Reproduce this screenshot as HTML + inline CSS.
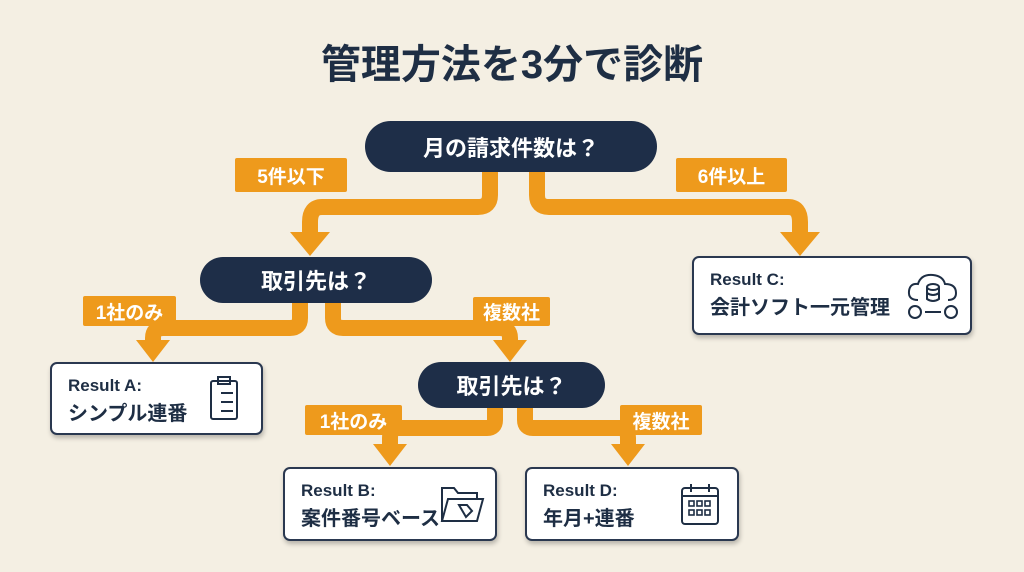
<!DOCTYPE html>
<html><head><meta charset="utf-8"><style>
body{margin:0;width:1024px;height:572px;background:#f4efe3;position:relative;overflow:hidden;font-family:"Liberation Sans","Noto Sans CJK JP",sans-serif;}
.t{position:absolute;left:0;width:1024px;top:32px;text-align:center;font-size:40px;font-weight:bold;color:#1e2e44;}
.pill{position:absolute;background:#1e2e48;color:#fff;border-radius:26px;font-weight:bold;font-size:22px;display:flex;align-items:center;justify-content:center;}
.lab{position:absolute;background:#ee9a1c;color:#fff;font-weight:bold;font-size:19px;display:flex;align-items:center;justify-content:center;border-radius:2px;}
.res{position:absolute;background:#fff;border:2px solid #2a3850;border-radius:7px;box-shadow:1px 3px 5px rgba(0,0,0,.25);box-sizing:border-box;color:#1e2e44;font-weight:bold;}
.res .a{position:absolute;left:16px;top:12px;font-size:17px;}
.res .b{position:absolute;left:16px;top:33px;font-size:20px;}
svg.ic{position:absolute;}
</style></head><body>
<div class="t">管理方法を3分で診断</div>
<svg width="1024" height="572" style="position:absolute;left:0;top:0" fill="none" stroke="#ee9a1c" stroke-width="16">
<path d="M490 172 V195 Q490 207 478 207 H322 Q310 207 310 222 V235"/>
<path d="M537 172 V195 Q537 207 549 207 H788 Q800 207 800 222 V235"/>
<path d="M300 302 V318 Q300 328 290 328 H163 Q153 328 153 338 V342"/>
<path d="M333 302 V318 Q333 328 343 328 H500 Q510 328 510 338 V342"/>
<path d="M495 408 V420 Q495 428 487 428 H398 Q390 428 390 438 V446"/>
<path d="M525 408 V420 Q525 428 533 428 H620 Q628 428 628 438 V446"/>
<g fill="#ee9a1c" stroke="none">
<polygon points="290,232 330,232 310,256"/>
<polygon points="780,232 820,232 800,256"/>
<polygon points="136,340 170,340 153,362"/>
<polygon points="493,340 527,340 510,362"/>
<polygon points="373,444 407,444 390,466"/>
<polygon points="611,444 645,444 628,466"/>
</g></svg>
<div class="pill" style="left:365px;top:121px;width:292px;height:51px;">月の請求件数は？</div>
<div class="lab" style="left:235px;top:158px;width:112px;height:34px;">5件以下</div>
<div class="lab" style="left:676px;top:158px;width:111px;height:34px;">6件以上</div>
<div class="pill" style="left:200px;top:257px;width:232px;height:46px;">取引先は？</div>
<div class="lab" style="left:83px;top:296px;width:93px;height:30px;">1社のみ</div>
<div class="lab" style="left:473px;top:297px;width:77px;height:29px;">複数社</div>
<div class="pill" style="left:418px;top:362px;width:187px;height:46px;">取引先は？</div>
<div class="lab" style="left:305px;top:405px;width:97px;height:30px;">1社のみ</div>
<div class="lab" style="left:620px;top:405px;width:82px;height:30px;">複数社</div>

<div class="res" style="left:692px;top:256px;width:280px;height:79px;"><div class="a">Result C:</div><div class="b">会計ソフト一元管理</div>
<svg class="ic" style="left:212px;top:14px" width="54" height="50" fill="none" stroke="#1e2e44" stroke-width="2"><path d="M12 28 Q2 28 3 19 Q4 11 12 12 Q15 2 27 3 Q37 4 39 12 Q50 12 50 21 Q50 28 42 28"/><ellipse cx="27" cy="15" rx="6" ry="3"/><path d="M21 15 V27 Q27 31 33 27 V15 M21 21 Q27 25 33 21"/><circle cx="9" cy="40" r="6"/><circle cx="45" cy="40" r="6"/><path d="M19 40 H35"/></svg></div>
<div class="res" style="left:50px;top:362px;width:213px;height:73px;"><div class="a">Result A:</div><div class="b">シンプル連番</div>
<svg class="ic" style="left:156px;top:11px" width="34" height="50" fill="none" stroke="#1e2e44" stroke-width="2"><rect x="3" y="6" width="26" height="38" rx="2"/><rect x="10" y="2" width="12" height="7"/><path d="M13 18 H25 M13 27 H25 M13 36 H25"/></svg></div>
<div class="res" style="left:283px;top:467px;width:214px;height:74px;"><div class="a">Result B:</div><div class="b">案件番号ベース</div>
<svg class="ic" style="left:154px;top:14px" width="46" height="44" fill="none" stroke="#1e2e44" stroke-width="2"><path d="M3 38 V5 H15 L19 10 H38 V16"/><path d="M3 38 L9 16 H44 L38 38 Z"/><path d="M20 22 L28 22 L33 28 L27 34 Z"/></svg></div>
<div class="res" style="left:525px;top:467px;width:214px;height:74px;"><div class="a">Result D:</div><div class="b">年月+連番</div>
<svg class="ic" style="left:152px;top:13px" width="42" height="46" fill="none" stroke="#1e2e44" stroke-width="2"><rect x="3" y="6" width="36" height="36" rx="3"/><path d="M3 14 H39 M12 2 V10 M30 2 V10"/><g stroke-width="1.6"><rect x="10" y="19" width="5" height="5"/><rect x="18" y="19" width="5" height="5"/><rect x="26" y="19" width="5" height="5"/><rect x="10" y="28" width="5" height="5"/><rect x="18" y="28" width="5" height="5"/><rect x="26" y="28" width="5" height="5"/></g></svg></div>
</body></html>
